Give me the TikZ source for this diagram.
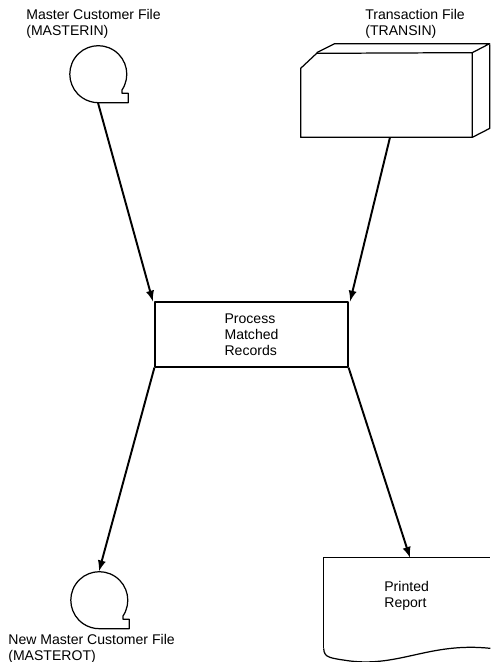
\documentclass[tikz,border=0pt]{standalone}
\usepackage{fontspec}
\setmainfont{Liberation Sans}
\usepackage{tikz}
\usetikzlibrary{positioning}

\begin{document}
\begin{tikzpicture}[x=0.02cm, y=0.02cm,
        lbl/.style={inner sep=0pt, align=left, font=\fontsize{8}{9.2}\selectfont},
        reel/.style={circle, minimum size=1.14cm, inner sep=0pt},
        flow/.style={-latex, line width=1.1pt},
        outline/.style={line width=0.7pt, line join=round}]
        \useasboundingbox (0,0) rectangle (490,662);

        % files at the top
        \node [lbl, anchor=north west] (inlbl) at (26,653) {Master Customer File\\(MASTERIN)};
        \node [reel] (masterin) at (98,588) {};
        \node [lbl, anchor=north west] (trlbl) at (365,653) {Transaction File\\(TRANSIN)};
        \node [minimum width=3.42cm, minimum height=1.68cm, inner sep=0pt] (transin) at (386.5,567) {};

        % process
        \node [lbl, draw, outline, minimum width=3.86cm, minimum height=1.3cm] (match) at (251.5,327.5) {Process\\Matched\\Records};

        % outputs
        \node [reel] (masterot) at (99,62) {};
        \node [lbl, anchor=north west] (otlbl) at (8,28) {New Master Customer File\\(MASTEROT)};
        \node [minimum width=3.32cm, minimum height=1.8cm, inner sep=0pt] (report) at (407,59) {};
        \node [lbl, anchor=west] (replbl) at (384,66) {Printed\\Report};

        % tape reels
        \draw [outline] (masterin.-34) arc [start angle=-34, end angle=270, radius=0.57cm]
                -- ++(30,0) -- ++(0,9.5) -- ++(-6.3,0) -- (masterin.-34);
        \draw [outline] (masterot.-34) arc [start angle=-34, end angle=270, radius=0.57cm]
                -- ++(30,0) -- ++(0,9.5) -- ++(-6.3,0) -- (masterot.-34);

        % transaction card deck
        \draw [outline] (transin.south west) -- ++(0,69) -- ++(16,15) -- (transin.north east)
                -- (transin.south east) -- cycle;
        \draw [outline] ([xshift=0.32cm]transin.north west) -- ++(18,9) -- ++(155,0) -- (transin.north east);
        \draw [outline] (transin.south east) -- ++(17.5,9) -- ++(0,84);

        % printed report
        \draw [outline] (report.south west) -- (report.north west) -- (report.north east);
        \draw [outline] (report.south west) .. controls (324,4) and (330,4) .. (350,1)
                .. controls (400,-5) and (430,20) .. (report.south east);

        % connectors
        \draw [flow] (masterin.south) -- ([xshift=-0.03cm]match.north west);
        \draw [flow] ([xshift=0.07cm]transin.south) -- ([xshift=0.03cm]match.north east);
        \draw [flow] (match.south west) -- (masterot.north);
        \draw [flow] (match.south east) -- ([xshift=0.06cm]report.north);
\end{tikzpicture}
\end{document}
